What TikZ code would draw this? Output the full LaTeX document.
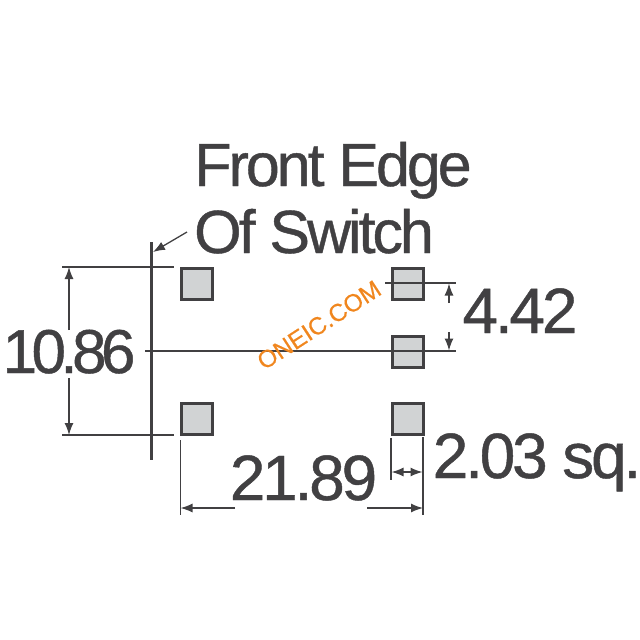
\documentclass[tikz,border=0pt]{standalone}
\usepackage{fontspec}
\setmainfont{Liberation Sans}
\newfontfamily\dimfont[LetterSpace=-5,FakeBold=0.7]{Liberation Sans}
\newfontfamily\tightfont[LetterSpace=-9,FakeBold=0.7]{Liberation Sans}
\newfontfamily\wmfont[FakeBold=0.4]{Liberation Sans}
\usetikzlibrary{arrows.meta}
\definecolor{ink}{HTML}{414042}
\definecolor{padfill}{HTML}{D1D3D4}
\definecolor{wm}{HTML}{F0861E}
\tikzset{
  x=1pt,y=-1pt,
  pad/.style={draw=ink,line width=3pt,fill=padfill,minimum size=31pt,inner sep=0pt,outer sep=0pt},
  thin line/.style={draw=ink,line width=1.3pt},
  edge line/.style={draw=ink,line width=3pt},
  dim arrow/.style={thin line,-{Latex[length=12pt,width=9pt]}},
  big/.style={font=\fontsize{61}{61}\selectfont\dimfont,text=ink,inner sep=0pt,anchor=base},
  num/.style={font=\fontsize{64}{64}\selectfont\dimfont,text=ink,inner sep=0pt,anchor=base},
  tightnum/.style={font=\fontsize{62}{62}\selectfont\tightfont,text=ink,inner sep=0pt,anchor=base},
  watermark/.style={font=\fontsize{24.5}{24.5}\selectfont\wmfont,text=wm,rotate=33,inner sep=0pt}
}
\begin{document}
\begin{tikzpicture}
\useasboundingbox (0,0) rectangle (640,640);
\coordinate (eT) at (151,242); \coordinate (eB) at (151,460);
\coordinate (lT1) at (62,267); \coordinate (lT2) at (174,267);
\coordinate (lB1) at (62,435); \coordinate (lB2) at (174,435);
\coordinate (mL) at (145,351); \coordinate (mR) at (456,351);
\coordinate (tL) at (385,283); \coordinate (tR) at (456,283);
\coordinate (a1) at (69,330); \coordinate (a1e) at (69,267);
\coordinate (a2) at (69,378); \coordinate (a2e) at (69,435);
\coordinate (b1) at (449,303); \coordinate (b1e) at (449,283.5);
\coordinate (b2) at (449,332); \coordinate (b2e) at (449,350.5);
\coordinate (wL1) at (180.5,440); \coordinate (wL2) at (180.5,515);
\coordinate (wR1) at (423,437); \coordinate (wR2) at (423,515);
\coordinate (nL1) at (391,438); \coordinate (nL2) at (391,480);
\coordinate (c1) at (235,508); \coordinate (c1e) at (180.5,508);
\coordinate (c2) at (367,508); \coordinate (c2e) at (423,508);
\coordinate (d0) at (407,472); \coordinate (d1) at (391.5,472); \coordinate (d2) at (422.5,472);
\coordinate (f1) at (187,232); \coordinate (f1e) at (153,252);
\node[pad] (p1) at (197,283.5) {};
\node[pad] (p3) at (197,419) {};
\node[pad] (p2) at (407.5,283.5) {};
\node[pad] (p4) at (407.5,351.5) {};
\node[pad] (p5) at (407.5,419) {};
\draw[edge line] (eT) -- (eB);
\draw[thin line] (lT1) -- (lT2);
\draw[thin line] (lB1) -- (lB2);
\draw[thin line] (mL) -- (mR);
\draw[thin line] (tL) -- (tR);
\draw[dim arrow] (a1) -- (a1e);
\draw[dim arrow] (a2) -- (a2e);
\draw[dim arrow] (b1) -- (b1e);
\draw[dim arrow] (b2) -- (b2e);
\draw[thin line] (wL1) -- (wL2);
\draw[thin line] (wR1) -- (wR2);
\draw[thin line] (nL1) -- (nL2);
\draw[dim arrow] (c1) -- (c1e);
\draw[dim arrow] (c2) -- (c2e);
\draw[dim arrow] (d0) -- (d1);
\draw[dim arrow] (d0) -- (d2);
\draw[dim arrow] (f1) -- (f1e);
\node[big] (t1) at (333,186) {Front Edge};
\node[big] (t2) at (314,253) {Of Switch};
\node[tightnum] (t3) at (69,373) {10.86};
\node[num] (t4) at (520,333) {4.42};
\node[num] (t5) at (303.5,500) {21.89};
\node[num] (t6) at (537,478) {2.03 sq.};
\node[watermark] (w) at (319,325) {ONEIC.COM};
\end{tikzpicture}
\end{document}
